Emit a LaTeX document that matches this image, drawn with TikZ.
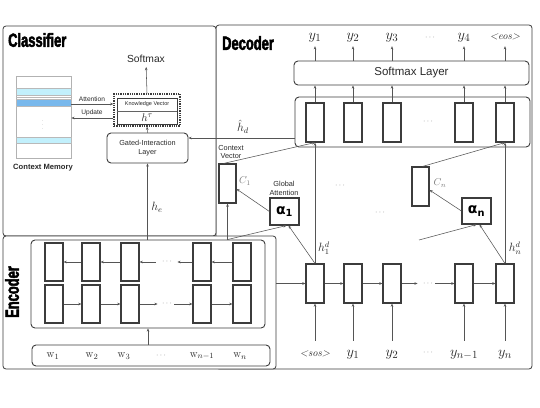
\documentclass[tikz,border=0pt]{standalone}
\usepackage{fontspec}
\usetikzlibrary{arrows.meta,calc}
\newfontfamily\helv{Liberation Sans}
\newfontfamily\titlef[FakeStretch=0.68,FakeBold=2.5]{Liberation Sans}
\newfontfamily\dejavu{DejaVu Sans}
\definecolor{boxc}{HTML}{3C3C3C}
\definecolor{linec}{HTML}{555555}
\definecolor{txtc}{HTML}{2A2A2A}
\definecolor{labc}{HTML}{7A7A7A}
\definecolor{cyanl}{HTML}{C2F0FC}
\definecolor{bluem}{HTML}{78B8EC}
\begin{document}
\begin{tikzpicture}[x=1pt,y=-1pt,
 frame/.style={draw=boxc,line width=0.8pt,rounded corners=3pt,fill=white,inner sep=0pt},
 rbox/.style={draw=boxc,line width=0.9pt,rounded corners=4pt,fill=white,inner sep=0pt},
 cell/.style={draw=boxc,line width=1.1pt,fill=white,minimum width=18pt,minimum height=38pt,inner sep=0pt},
 sbox/.style={draw=boxc,line width=1.1pt,fill=white,inner sep=0pt},
 arr/.style={draw=linec,line width=0.55pt,-{Stealth[length=3.2pt,width=2.6pt]}},
 sf/.style={font=\helv\fontsize{#1}{#1}\selectfont,text=txtc,inner sep=0pt},
 tt/.style={font=\titlef\bfseries\fontsize{19}{19}\selectfont,text=black,inner sep=0pt},
 mlab/.style={font=\fontsize{#1}{#1}\selectfont,text=txtc,inner sep=0pt},
 ylab/.style={font=\fontsize{15}{15}\selectfont,text=txtc,inner sep=0pt,text height=7pt,text depth=3pt},
 dotsl/.style={font=\fontsize{8}{8}\selectfont,text=labc,inner sep=0pt}
]
\useasboundingbox (0,0) rectangle (540,407);

% ---------- frames ----------
\node[frame,minimum width=316pt,minimum height=344pt] (decf) at (374,197) {};
\node[frame,minimum width=213pt,minimum height=210pt] (clsf) at (109.5,131) {};
\node[frame,minimum width=273pt,minimum height=133pt] (encf) at (139.5,302.5) {};

\node[tt,anchor=west] (ct) at (8,40) {Classifier};
\node[tt,anchor=west] (dt) at (222,43) {Decoder};
\node[tt,rotate=90] (et) at (12,292) {Encoder};

% ---------- classifier ----------
\node[draw=gray!60,line width=0.6pt,fill=white,minimum width=55pt,minimum height=82pt,inner sep=0pt] (mem) at (43.5,117) {};
\draw[gray!55,line width=0.5pt,fill=cyanl] (16,88) rectangle (71,95);
\draw[gray!55,line width=0.5pt] (16,97) -- (71,97);
\draw[gray!55,line width=0.5pt,fill=bluem] (16,99) rectangle (71,106);
\draw[gray!55,line width=0.5pt,fill=cyanl] (16,137) rectangle (71,143);
\node[font=\fontsize{5}{5}\selectfont,text=labc,inner sep=0pt] (vd) at (43,122) {\vdots};
\node[sf=7.6] (meml) at (43,168) {\bfseries Context Memory};

\node[draw=boxc,densely dotted,line width=1.3pt,minimum width=66pt,minimum height=32pt,inner sep=0pt] (dotb) at (147,110) {};
\node[draw=boxc,line width=0.7pt,minimum width=60pt,minimum height=13pt,sf=5.5] (kv) at (147,104.5) {Knowledge Vector};
\node[draw=boxc,line width=0.7pt,minimum width=60pt,minimum height=13pt,mlab=11] (ht) at (147,117.5) {$h^{\tau}$};
\draw[boxc!80,line width=1.6pt] (kv.south west) -- (kv.south east);

\node[sf=10.3] (smx) at (146,59) {Softmax};
\draw[arr,shorten >=4pt] (dotb.north) -- (smx.south);

\node[rbox,minimum width=81pt,minimum height=30pt,align=center,font=\helv\fontsize{7.3}{9.5}\selectfont,text=txtc] (gil) at (147.5,148) {Gated-Interaction\\Layer};
\draw[arr] (gil.north) -- (dotb.south);

\node[sf=6.6] (attl) at (92,99) {Attention};
\node[sf=6.6] (updl) at (92,113) {Update};
\draw[arr] (mem.east |- 0,104) -- (dotb.west |- 0,104);
\draw[arr] (dotb.west |- 0,118) -- (mem.east |- 0,118);

% ---------- decoder ----------
\node[rbox,minimum width=235pt,minimum height=24pt,sf=11.5] (sml) at (411.5,73) {Softmax Layer};
\node[rbox,minimum width=235pt,minimum height=50pt] (decin) at (412.5,122) {};
\foreach \i/\x in {1/315,2/353,3/392,4/464,5/505} {
  \node[cell,minimum height=39pt] (t\i) at (\x,122.5) {};
  \node[cell,minimum height=39pt] (b\i) at (\x,283.5) {};
}
\node[dotsl] (td) at (428,122) {$\cdots$};

\node[ylab] (o1) at (315,37) {$y_1$};
\node[ylab] (o2) at (353,37) {$y_2$};
\node[ylab] (o3) at (392,37) {$y_3$};
\node[dotsl] (od) at (430,38) {$\cdots$};
\node[ylab] (o4) at (464,37) {$y_4$};
\node[ylab,font=\itshape\fontsize{10.5}{10.5}\selectfont] (o5) at (505,37) {<eos>};
\foreach \i in {1,...,5} {
  \draw[arr] (t\i.north) -- (t\i.north |- sml.south);
  \draw[arr,shorten >=4pt] (t\i.north |- sml.north) -- (t\i.north |- o\i.south);
}

\node[ylab,font=\itshape\fontsize{10.5}{10.5}\selectfont] (i1) at (315,354) {<sos>};
\node[ylab] (i2) at (353,354) {$y_1$};
\node[ylab] (i3) at (392,354) {$y_2$};
\node[dotsl] (idt) at (428,353) {$\cdots$};
\node[ylab] (i4) at (464,354) {$y_{n-1}$};
\node[ylab] (i5) at (505,354) {$y_n$};
\foreach \i in {1,...,5} {
  \draw[arr,shorten <=8pt] (i\i.north -| b\i.south) -- (b\i.south);
}

\draw[arr] (b1.east) -- (b2.west);
\draw[arr] (b2.east) -- (b3.west);
\coordinate (bx1) at ($(b3.east)+(16,0)$);
\draw[arr] (b3.east) -- (bx1);
\node[dotsl] (bd) at (428,283.5) {$\cdots$};
\coordinate (bx2) at ($(b4.west)+(-19,0)$);
\draw[arr] (bx2) -- (b4.west);
\draw[arr] (b4.east) -- (b5.west);

\draw[arr] (b1.north) -- (t1.south);
\draw[arr] (b5.north) -- (t5.south);
\node[mlab=12] (h1l) at (324,248) {$h_1^d$};
\node[mlab=12] (hnl) at (515,248) {$h_n^d$};

% context vectors / attention
\node[sbox,minimum width=17pt,minimum height=39pt] (c1) at (227.5,183.5) {};
\node[mlab=10,text=labc] (c1l) at (245,181) {$C_1$};
\node[sbox,minimum width=29pt,minimum height=27pt,font=\dejavu\bfseries\fontsize{14}{14}\selectfont] (a1) at (284.5,211.5) {α\textsubscript{1}};
\node[font=\helv\fontsize{7.3}{8.8}\selectfont,align=center,text=txtc,inner sep=0pt] (gal) at (284,188) {Global\\Attention};
\node[font=\helv\fontsize{7.3}{8.8}\selectfont,align=center,text=txtc,inner sep=0pt] (cvl) at (231,152) {Context\\Vector};

\node[sbox,minimum width=17pt,minimum height=39pt] (cn) at (420.5,186.5) {};
\node[mlab=10,text=labc] (cnl) at (440,183) {$C_n$};
\node[sbox,minimum width=29pt,minimum height=26pt,font=\dejavu\bfseries\fontsize{14}{14}\selectfont] (an) at (476.5,211) {α\textsubscript{n}};

\node[dotsl] (md1) at (340,186) {$\cdots$};
\node[dotsl] (md2) at (380,213) {$\cdots$};

% ---------- encoder ----------
\node[rbox,minimum width=234pt,minimum height=88pt] (encin) at (148,284) {};
\foreach \i/\x in {1/54,2/91,3/130,4/202,5/242} {
  \node[cell] (u\i) at (\x,262) {};
  \node[cell] (l\i) at (\x,304) {};
}
\draw[arr] (u2.west) -- (u1.east);
\draw[arr] (u3.west) -- (u2.east);
\coordinate (ux1) at ($(u3.east)+(16,0)$);
\draw[arr] (ux1) -- (u3.east);
\node[dotsl] (ud) at (167,262) {$\cdots$};
\coordinate (ux2) at ($(u4.west)+(-15,0)$);
\draw[arr] (u4.west) -- (ux2);
\draw[arr] (u5.west) -- (u4.east);

\draw[arr] (l1.east) -- (l2.west);
\draw[arr] (l2.east) -- (l3.west);
\coordinate (lx1) at ($(l3.east)+(18,0)$);
\draw[arr] (l3.east) -- (lx1);
\node[dotsl] (ld) at (167,304) {$\cdots$};
\coordinate (lx2) at ($(l4.west)+(-18,0)$);
\draw[arr] (lx2) -- (l4.west);
\draw[arr] (l4.east) -- (l5.west);

\node[rbox,minimum width=238pt,minimum height=21pt] (inp) at (151,355.5) {};
\node[mlab=11] (w1) at (53,356) {$\mathrm{w}_1$};
\node[mlab=11] (w2) at (92,356) {$\mathrm{w}_2$};
\node[mlab=11] (w3) at (124,356) {$\mathrm{w}_3$};
\node[dotsl] (wd) at (161,356) {$\cdots$};
\node[mlab=11] (w4) at (202,356) {$\mathrm{w}_{n-1}$};
\node[mlab=11] (w5) at (240,356) {$\mathrm{w}_n$};
\draw[arr] (encin.south |- inp.north) -- (encin.south);

% ---------- cross connections ----------
\draw[arr] (encf.east |- b1.west) -- (b1.west);
\draw[arr] (encin.north -| gil.south) -- (gil.south);
\node[mlab=12] (hel) at (157,207) {$h_e$};
\draw[arr] (decin.west |- 0,138) -- (gil.east |- 0,138);
\node[mlab=12] (hdl) at (243,127) {$\hat{h}_d$};

\coordinate (ej) at (c1.south |- encin.north);
\draw[arr] (ej) -- (c1.south);
\draw[arr] (ej) -- ($(a1.south)+(2,0)$);
\draw[arr] (b1.north) -- ($(a1.south)+(4,0)$);
\draw[arr] (a1.west) -- (c1.east |- 0,189);
\draw[arr] ($(c1.north)+(-4,0)$) -- (t1.south);

\coordinate (fn) at (419,240);
\draw[arr] (fn) -- (an.south);
\draw[arr] (b5.north) -- ($(an.south)+(3,0)$);
\draw[arr] (an.west) -- (cn.east |- 0,190);
\draw[arr] ($(cn.north)+(2,0)$) -- (t5.south);
\end{tikzpicture}
\end{document}
